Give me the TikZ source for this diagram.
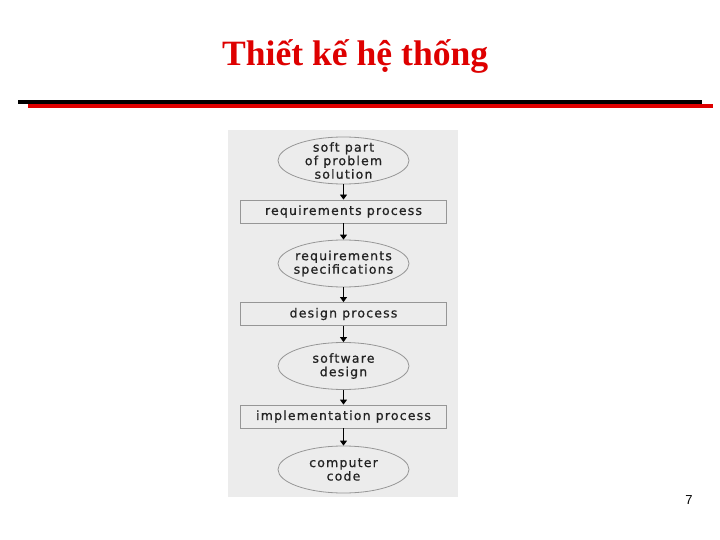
\documentclass[tikz,border=0pt]{standalone}
\usepackage{fontspec}
\setmainfont{Liberation Serif}
\newfontfamily\diagfont[LetterSpace=9.5,FakeBold=0.8]{DejaVu Sans}
\newfontfamily\numfont{Liberation Sans}
\usetikzlibrary{shapes.geometric,arrows.meta}
\definecolor{titlered}{RGB}{222,0,0}
\definecolor{panelgray}{RGB}{236,236,236}
\definecolor{edgegray}{RGB}{150,150,150}
\definecolor{textgray}{RGB}{35,35,35}
\tikzset{
  px/.style={x=1pt,y=-1pt},
  blob/.style={ellipse,draw=edgegray,line width=0.8pt,fill=panelgray,minimum width=131pt,minimum height=47pt,inner sep=-10pt,align=center,text=textgray,font=\diagfont\fontsize{12.5}{13.5}\selectfont},
  stepbox/.style={rectangle,draw=edgegray,line width=0.8pt,fill=panelgray,minimum width=206pt,minimum height=23pt,inner sep=0pt,text=textgray,font=\diagfont\fontsize{12.5}{13.5}\selectfont},
  flow/.style={draw=black,line width=0.8pt,-{Triangle[width=7pt,length=5pt]}}
}
\begin{document}
\begin{tikzpicture}[px]
\useasboundingbox (0,0) rectangle (720,540);
\fill[white] (0,0) rectangle (720,540);
% title
\node[anchor=base west,inner sep=0pt,text=titlered,font=\bfseries\fontsize{35.6}{40}\selectfont] (title) at (222,66) {Thiết kế hệ thống};
% rules
\fill[black] (18,100) rectangle (702,104);
\fill[titlered] (28,104) rectangle (713,108);
% panel
\fill[panelgray] (228,130) rectangle (458,497);
% nodes
\node[blob] (e1) at (343.5,160.5) {soft part\\of problem\\solution};
\node[stepbox] (r1) at (343.5,211.5) {requirements process};
\node[blob] (e2) at (343.5,263.5) {requirements\\specifications};
\node[stepbox] (r2) at (343.5,314) {design process};
\node[blob] (e3) at (343.5,366) {software\\design};
\node[stepbox] (r3) at (343.5,416.5) {implementation process};
\node[blob] (e4) at (343.5,469.5) {computer\\code};
% connectors
\draw[flow] (e1.south) -- (r1.north);
\draw[flow] (r1.south) -- (e2.north);
\draw[flow] (e2.south) -- (r2.north);
\draw[flow] (r2.south) -- (e3.north);
\draw[flow] (e3.south) -- (r3.north);
\draw[flow] (r3.south) -- (e4.north);
% page number
\node[font=\numfont\fontsize{13}{15}\selectfont,inner sep=0pt] (pg) at (689,500) {7};
\end{tikzpicture}
\end{document}
